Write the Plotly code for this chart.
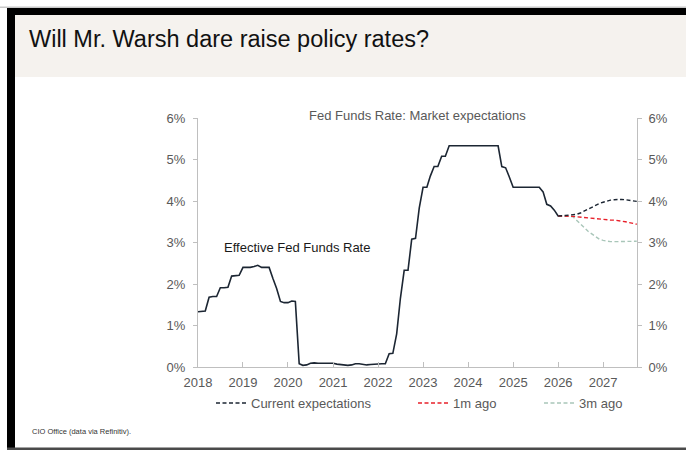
import plotly.graph_objects as go

# ---------------- data ----------------
effr_dates = [
    "2018-01-01", "2018-02-01", "2018-03-01", "2018-04-01", "2018-05-01", "2018-06-01",
    "2018-07-01", "2018-08-01", "2018-09-01", "2018-10-01", "2018-11-01", "2018-12-01",
    "2019-01-01", "2019-02-01", "2019-03-01", "2019-04-01", "2019-05-01", "2019-06-01",
    "2019-07-01", "2019-08-01", "2019-09-01", "2019-10-01", "2019-11-01", "2019-12-01",
    "2020-01-01", "2020-02-01", "2020-03-01", "2020-04-01", "2020-05-01", "2020-06-01",
    "2020-07-01", "2020-08-01", "2020-09-01", "2020-10-01", "2020-11-01", "2020-12-01",
    "2021-01-01", "2021-02-01", "2021-03-01", "2021-04-01", "2021-05-01", "2021-06-01",
    "2021-07-01", "2021-08-01", "2021-09-01", "2021-10-01", "2021-11-01", "2021-12-01",
    "2022-01-01", "2022-02-01", "2022-03-01", "2022-04-01", "2022-05-01", "2022-06-01",
    "2022-07-01", "2022-08-01", "2022-09-01", "2022-10-01", "2022-11-01", "2022-12-01",
    "2023-01-01", "2023-02-01", "2023-03-01", "2023-04-01", "2023-05-01", "2023-06-01",
    "2023-07-01", "2023-08-01", "2023-09-01", "2023-10-01", "2023-11-01", "2023-12-01",
    "2024-01-01", "2024-02-01", "2024-03-01", "2024-04-01", "2024-05-01", "2024-06-01",
    "2024-07-01", "2024-08-01", "2024-09-01", "2024-10-01", "2024-11-01", "2024-12-01",
    "2025-01-01", "2025-02-01", "2025-03-01", "2025-04-01", "2025-05-01", "2025-06-01",
    "2025-07-01", "2025-08-01", "2025-09-01", "2025-10-01", "2025-11-01", "2025-12-01",
    "2026-01-01", "2026-02-01",
]
effr_values = [
    1.33, 1.34, 1.35, 1.68, 1.70, 1.70, 1.91, 1.91, 1.92, 2.19, 2.20, 2.21,
    2.40, 2.40, 2.40, 2.42, 2.45, 2.40, 2.40, 2.40, 2.13, 1.89, 1.58, 1.55,
    1.55, 1.59, 1.58, 0.08, 0.04, 0.05, 0.09, 0.10, 0.09, 0.09, 0.09, 0.09,
    0.09, 0.07, 0.06, 0.05, 0.04, 0.05, 0.08, 0.08, 0.06, 0.05, 0.06, 0.07,
    0.08, 0.08, 0.08, 0.32, 0.33, 0.80, 1.65, 2.33, 2.33, 3.08, 3.10, 3.83,
    4.33, 4.33, 4.60, 4.83, 4.83, 5.08, 5.08, 5.33, 5.33, 5.33, 5.33, 5.33,
    5.33, 5.33, 5.33, 5.33, 5.33, 5.33, 5.33, 5.33, 5.33, 4.83, 4.80, 4.58,
    4.33, 4.33, 4.33, 4.33, 4.33, 4.33, 4.33, 4.33, 4.22, 3.92, 3.88, 3.78,
    3.64, 3.64,
]

exp_dates = [
    "2026-01-01", "2026-02-01", "2026-03-01", "2026-04-01", "2026-05-01", "2026-06-01",
    "2026-07-01", "2026-08-01", "2026-09-01", "2026-10-01", "2026-11-01", "2026-12-01",
    "2027-01-01", "2027-02-01", "2027-03-01", "2027-04-01", "2027-05-01", "2027-06-01",
    "2027-07-01", "2027-08-01", "2027-09-01", "2027-10-01",
]
current_exp = [3.64, 3.64, 3.65, 3.66, 3.67, 3.68, 3.71, 3.76, 3.81, 3.86, 3.90, 3.94,
               3.97, 4.00, 4.02, 4.03, 4.04, 4.04, 4.03, 4.02, 4.00, 3.99]
exp_1m_ago = [3.64, 3.64, 3.64, 3.63, 3.63, 3.62, 3.61, 3.60, 3.59, 3.58, 3.57, 3.56,
              3.55, 3.55, 3.54, 3.54, 3.53, 3.52, 3.50, 3.48, 3.46, 3.44]
exp_3m_ago = [3.64, 3.64, 3.64, 3.63, 3.62, 3.54, 3.45, 3.36, 3.27, 3.20, 3.13, 3.08,
              3.05, 3.03, 3.02, 3.02, 3.02, 3.02, 3.02, 3.02, 3.03, 3.03]

y_ticks = [0, 1, 2, 3, 4, 5, 6]
y_tick_labels = ["0%", "1%", "2%", "3%", "4%", "5%", "6%"]
x_tick_dates = ["2018-01-01", "2019-01-01", "2020-01-01", "2021-01-01", "2022-01-01",
                "2023-01-01", "2024-01-01", "2025-01-01", "2026-01-01", "2027-01-01"]
x_tick_labels = ["2018", "2019", "2020", "2021", "2022", "2023", "2024", "2025", "2026", "2027"]

title_text = "Will Mr. Warsh dare raise policy rates?"
chart_title = "Fed Funds Rate: Market expectations"
line_label = "Effective Fed Funds Rate"
source_text = "CIO Office (data via Refinitiv)."

# ---------------- layout geometry (pixels of the 686x451 picture) ----------------
W, H = 686, 451
L, R, T, B = 198, 637, 118, 367
FONT = "Liberation Sans, Arial, sans-serif"
AXIS_GREY = "#bfbfbf"
TICK_TEXT = "#595959"
NAVY = "#1c2633"


def px(x):
    return x / W


def py(y):
    return 1 - y / H


fig = go.Figure()

fig.add_trace(go.Scatter(
    x=effr_dates, y=effr_values, mode="lines", name=line_label,
    line=dict(color=NAVY, width=1.6), showlegend=False,
))
fig.add_trace(go.Scatter(
    x=exp_dates, y=exp_3m_ago, mode="lines", name="3m ago",
    line=dict(color="#a9c6b9", width=1.4, dash="4px,2.5px"), legend="legend3",
))
fig.add_trace(go.Scatter(
    x=exp_dates, y=exp_1m_ago, mode="lines", name="1m ago",
    line=dict(color="#e8202a", width=1.4, dash="4px,2.5px"), legend="legend2",
))
fig.add_trace(go.Scatter(
    x=exp_dates, y=current_exp, mode="lines", name="Current expectations",
    line=dict(color=NAVY, width=1.4, dash="4px,2.5px"), legend="legend",
))
# invisible trace to activate the right-hand axis
fig.add_trace(go.Scatter(
    x=[effr_dates[0]], y=[effr_values[0]], yaxis="y2", mode="lines",
    line=dict(width=0), showlegend=False, hoverinfo="skip",
))

shapes = [
    # beige header band
    dict(type="rect", xref="paper", yref="paper", x0=px(15), x1=px(W), y0=py(15), y1=py(77),
         fillcolor="#f5f2ee", line=dict(width=0), layer="below"),
    # thin grey line at very top
    dict(type="rect", xref="paper", yref="paper", x0=px(0), x1=px(W), y0=py(6.5), y1=py(8),
         fillcolor="#c8c8c8", line=dict(width=0)),
    # black top bar
    dict(type="rect", xref="paper", yref="paper", x0=px(7), x1=px(W), y0=py(8), y1=py(15),
         fillcolor="#000000", line=dict(width=0)),
    # black left bar
    dict(type="rect", xref="paper", yref="paper", x0=px(7), x1=px(15), y0=py(8), y1=py(448),
         fillcolor="#000000", line=dict(width=0)),
    # bottom dark line
    dict(type="rect", xref="paper", yref="paper", x0=px(7), x1=px(W), y0=py(447.5), y1=py(450),
         fillcolor="#4a4a4a", line=dict(width=0)),
]

annotations = [
    dict(text=title_text, x=px(27), y=py(39), xref="paper", yref="paper",
         xanchor="left", yanchor="middle", showarrow=False,
         font=dict(family=FONT, size=23.5, color="#111111")),
    dict(text=chart_title, x=px(417), y=py(115), xref="paper", yref="paper",
         xanchor="center", yanchor="middle", showarrow=False,
         font=dict(family=FONT, size=13, color=TICK_TEXT)),
    dict(text=line_label, x=px(222), y=py(247), xref="paper", yref="paper",
         xanchor="left", yanchor="middle", showarrow=False,
         font=dict(family=FONT, size=13, color="#1a1a1a")),
    dict(text=source_text, x=px(30), y=py(431), xref="paper", yref="paper",
         xanchor="left", yanchor="middle", showarrow=False,
         font=dict(family=FONT, size=7.5, color="#333333")),
]

legend_common = dict(orientation="h", xanchor="left", yanchor="middle",
                     bgcolor="rgba(0,0,0,0)", borderwidth=0,
                     font=dict(family=FONT, size=13, color=TICK_TEXT),
                     itemwidth=30, tracegroupgap=0)

yaxis_common = dict(range=[0, 6], tickmode="array", tickvals=y_ticks, ticktext=y_tick_labels,
                    showgrid=False, zeroline=False, showline=True,
                    linecolor=AXIS_GREY, linewidth=1, ticks="outside",
                    ticklen=4, tickcolor=AXIS_GREY, tickwidth=1,
                    tickfont=dict(family=FONT, size=13, color=TICK_TEXT),
                    domain=[py(B), py(T)], fixedrange=True)

fig.update_layout(
    width=W, height=H,
    margin=dict(l=0, r=0, t=0, b=0, pad=0, autoexpand=False),
    paper_bgcolor="#ffffff", plot_bgcolor="#ffffff",
    font=dict(family=FONT, size=13, color=TICK_TEXT),
    xaxis=dict(type="date", range=["2018-01-01", "2027-10-03"], domain=[px(L), px(R)],
               tickmode="array", tickvals=x_tick_dates, ticktext=x_tick_labels,
               showgrid=False, zeroline=False, showline=True,
               linecolor=AXIS_GREY, linewidth=1, ticks="inside", ticklen=5,
               tickcolor=AXIS_GREY, tickwidth=1, ticklabelstandoff=3,
               tickfont=dict(family=FONT, size=13, color=TICK_TEXT), automargin=False,
               fixedrange=True),
    yaxis=dict(**yaxis_common, side="left", anchor="x", ticklabelstandoff=5, automargin=False),
    yaxis2=dict(**yaxis_common, side="right", overlaying="y", anchor="x",
                ticklabelstandoff=4, automargin=False),
    legend=dict(**legend_common, x=px(211), y=py(403)),
    legend2=dict(**legend_common, x=px(413), y=py(403)),
    legend3=dict(**legend_common, x=px(539), y=py(403)),
    shapes=shapes,
    annotations=annotations,
    hovermode="closest",
)

fig.write_html("out.html", config={"displayModeBar": False},
               post_script="document.body.style.margin='0px';")
